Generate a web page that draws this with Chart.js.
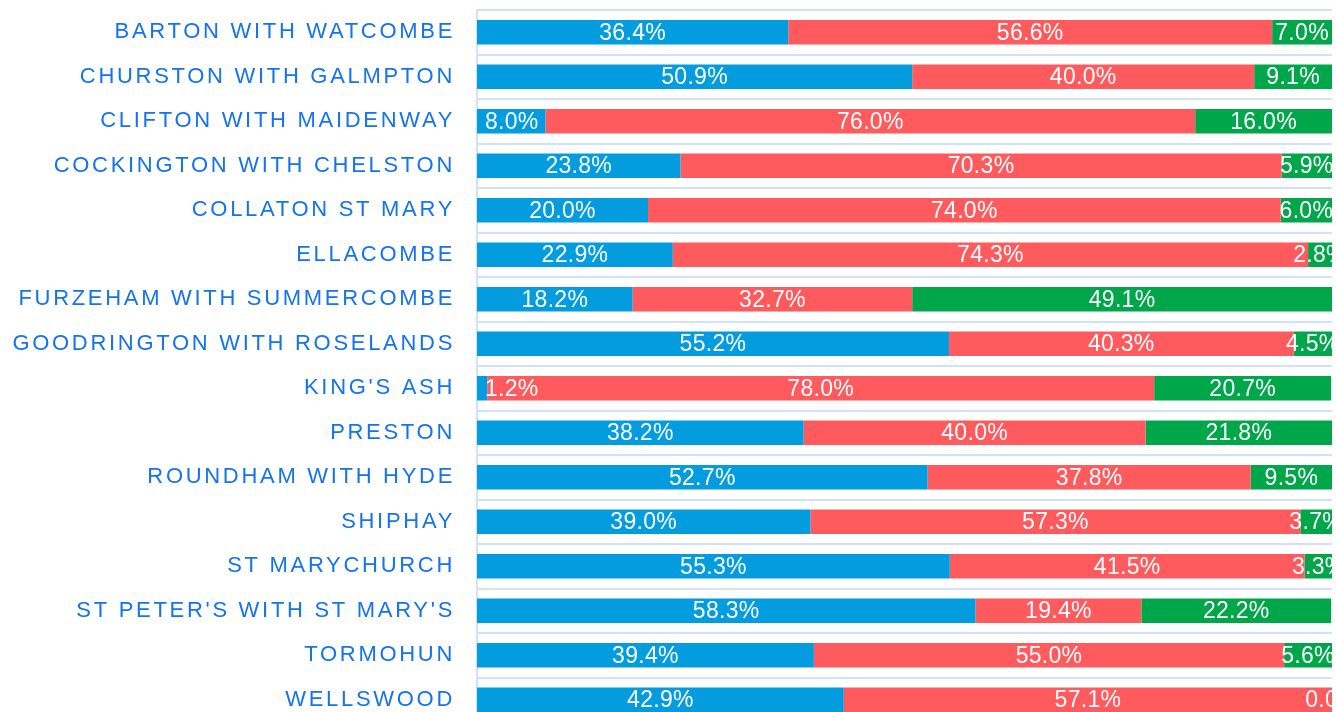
<!DOCTYPE html>
<html>
<head>
<meta charset="utf-8">
<script src="https://cdn.jsdelivr.net/npm/chart.js@4.4.1/dist/chart.umd.min.js"></script>
<style>
  html, body { margin: 0; padding: 0; background: #fff; overflow: hidden; }
  #wrap { position: relative; width: 1336px; height: 730px; }
</style>
</head>
<body>
<div id="wrap"><canvas id="wardChart"></canvas></div>
<script>
// wards and share of responses (%) per group
const wards = [
  'BARTON WITH WATCOMBE', 'CHURSTON WITH GALMPTON', 'CLIFTON WITH MAIDENWAY',
  'COCKINGTON WITH CHELSTON', 'COLLATON ST MARY', 'ELLACOMBE',
  'FURZEHAM WITH SUMMERCOMBE', 'GOODRINGTON WITH ROSELANDS', "KING'S ASH",
  'PRESTON', 'ROUNDHAM WITH HYDE', 'SHIPHAY', 'ST MARYCHURCH',
  "ST PETER'S WITH ST MARY'S", 'TORMOHUN', 'WELLSWOOD'
];
const blueValues  = [36.4, 50.9, 8.0, 23.8, 20.0, 22.9, 18.2, 55.2, 1.2, 38.2, 52.7, 39.0, 55.3, 58.3, 39.4, 42.9];
const redValues   = [56.6, 40.0, 76.0, 70.3, 74.0, 74.3, 32.7, 40.3, 78.0, 40.0, 37.8, 57.3, 41.5, 19.4, 55.0, 57.1];
const greenValues = [7.0, 9.1, 16.0, 5.9, 6.0, 2.8, 49.1, 4.5, 20.7, 21.8, 9.5, 3.7, 3.3, 22.2, 5.6, 0.0];

const FONT = "'Liberation Sans', Arial, Helvetica, sans-serif";
const gridBlue = '#cfe1fb';

// y labels are letter spaced, bar labels are not
const spacingPlugin = {
  id: 'spacing',
  beforeDraw(chart) {
    chart.ctx.letterSpacing = '2.7px';
  }
};

const valueLabels = {
  id: 'valueLabels',
  afterDatasetsDraw(chart) {
    const ctx = chart.ctx;
    const area = chart.chartArea;
    ctx.save();
    ctx.letterSpacing = '0.3px';
    ctx.font = '23px ' + FONT;
    ctx.fillStyle = '#ffffff';
    ctx.textAlign = 'center';
    ctx.textBaseline = 'middle';
    chart.data.datasets.forEach((ds, i) => {
      chart.getDatasetMeta(i).data.forEach((bar, j) => {
        const txt = ds.data[j].toFixed(1) + '%';
        const w = ctx.measureText(txt).width;
        const left = Math.min(bar.x, bar.base);
        const right = Math.max(bar.x, bar.base);
        let x = (left + right) / 2;
        x = Math.max(x, area.left + w / 2 + 8);
        ctx.fillText(txt, x, bar.y + 1);
      });
    });
    ctx.restore();
  }
};

const ctx = document.getElementById('wardChart').getContext('2d');
new Chart(ctx, {
  type: 'bar',
  data: {
    labels: wards,
    datasets: [
      { label: 'Blue', data: blueValues, backgroundColor: '#039ddf' },
      { label: 'Red', data: redValues, backgroundColor: '#ff5a5e' },
      { label: 'Green', data: greenValues, backgroundColor: '#00a64a' }
    ]
  },
  options: {
    indexAxis: 'y',
    responsive: true,
    maintainAspectRatio: false,
    animation: false,
    layout: { padding: { top: 10, right: 4, bottom: 8, left: 0 } },
    barPercentage: 0.55,
    categoryPercentage: 1,
    plugins: {
      legend: { display: false },
      tooltip: { enabled: false }
    },
    scales: {
      x: {
        stacked: true,
        min: 0,
        max: 100,
        display: false
      },
      y: {
        stacked: true,
        afterFit(scale) {
          scale.width = 477;
          scale.paddingTop = 0;
          scale.paddingBottom = 0;
        },
        grid: {
          color: gridBlue,
          lineWidth: 2,
          drawTicks: false
        },
        border: { color: gridBlue, width: 2 },
        ticks: {
          color: '#1473ef',
          padding: 22,
          font: { size: 22, family: FONT }
        }
      }
    }
  },
  plugins: [spacingPlugin, valueLabels]
});
</script>
</body>
</html>
